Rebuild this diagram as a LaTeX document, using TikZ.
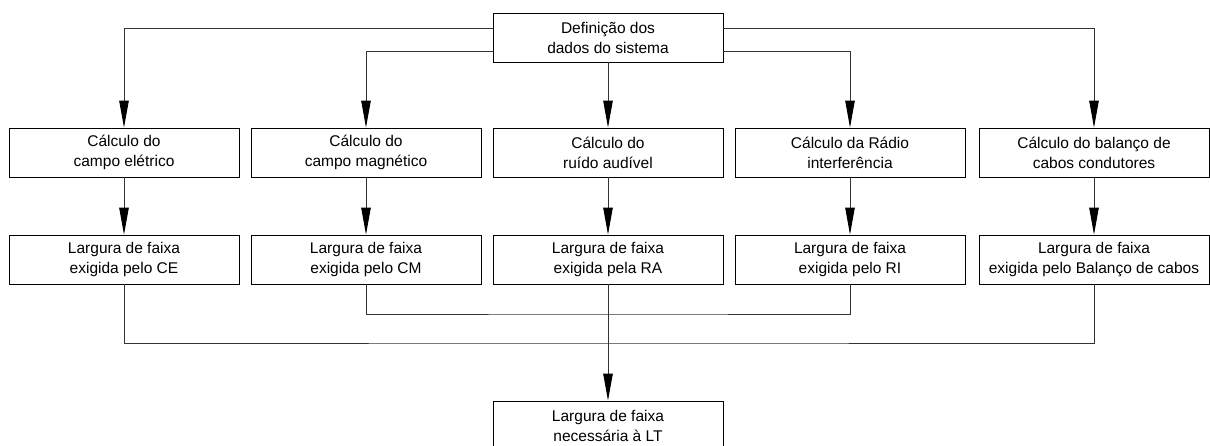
\documentclass[tikz,border=0pt]{standalone}
\usepackage{fontspec}
\setmainfont{Liberation Sans}
\usetikzlibrary{arrows.meta}
\begin{document}
\begin{tikzpicture}[x=1pt,y=-1pt,
  box/.style={draw=black,line width=0.9pt,minimum width=230pt,minimum height=49pt,inner sep=0pt,align=center,font=\fontsize{15.5pt}{20pt}\selectfont},
  conn/.style={line width=0.9pt,draw=black!80},
  arr/.style={conn,-{Triangle[length=27pt,width=9.5pt,color=black,fill=black]}}]
\clip (0,0) rectangle (1210,445);
\node[box] (top) at (608,37.5) {Definição dos\\dados do sistema};
\node[box] (c1) at (124,152.5) {Cálculo do\\campo elétrico};
\node[box] (c2) at (366,152.5) {Cálculo do\\campo magnético};
\node[box] (c3) at (608,152.5) {Cálculo do\\ruído audível};
\node[box] (c4) at (850,152.5) {Cálculo da Rádio\\interferência};
\node[box] (c5) at (1094,152.5) {Cálculo do balanço de\\cabos condutores};
\node[box] (b1) at (124,259.5) {Largura de faixa\\exigida pelo CE};
\node[box] (b2) at (366,259.5) {Largura de faixa\\exigida pelo CM};
\node[box] (b3) at (608,259.5) {Largura de faixa\\exigida pela RA};
\node[box] (b4) at (850,259.5) {Largura de faixa\\exigida pelo RI};
\node[box] (b5) at (1094,259.5) {Largura de faixa\\exigida pelo Balanço de cabos};
\node[box] (fin) at (608,425.5) {Largura de faixa\\necessária à LT};
\coordinate (j1) at (608,314);
\coordinate (j2) at (608,343);
\draw[arr] ([yshift=9.5pt]top.west) -| (c1.north);
\draw[arr] ([yshift=-13.5pt]top.west) -| (c2.north);
\draw[arr] (top.south) -- (c3.north);
\draw[arr] ([yshift=-13.5pt]top.east) -| (c4.north);
\draw[arr] ([yshift=9.5pt]top.east) -| (c5.north);
\foreach \i in {1,...,5} {\draw[arr] (c\i.south) -- (b\i.north);}
\draw[conn] (b2.south) |- (j1) -| (b4.south);
\draw[conn] (b1.south) |- (j2) -| (b5.south);
\draw[arr] (b3.south) -- (fin.north);
\end{tikzpicture}
\end{document}
